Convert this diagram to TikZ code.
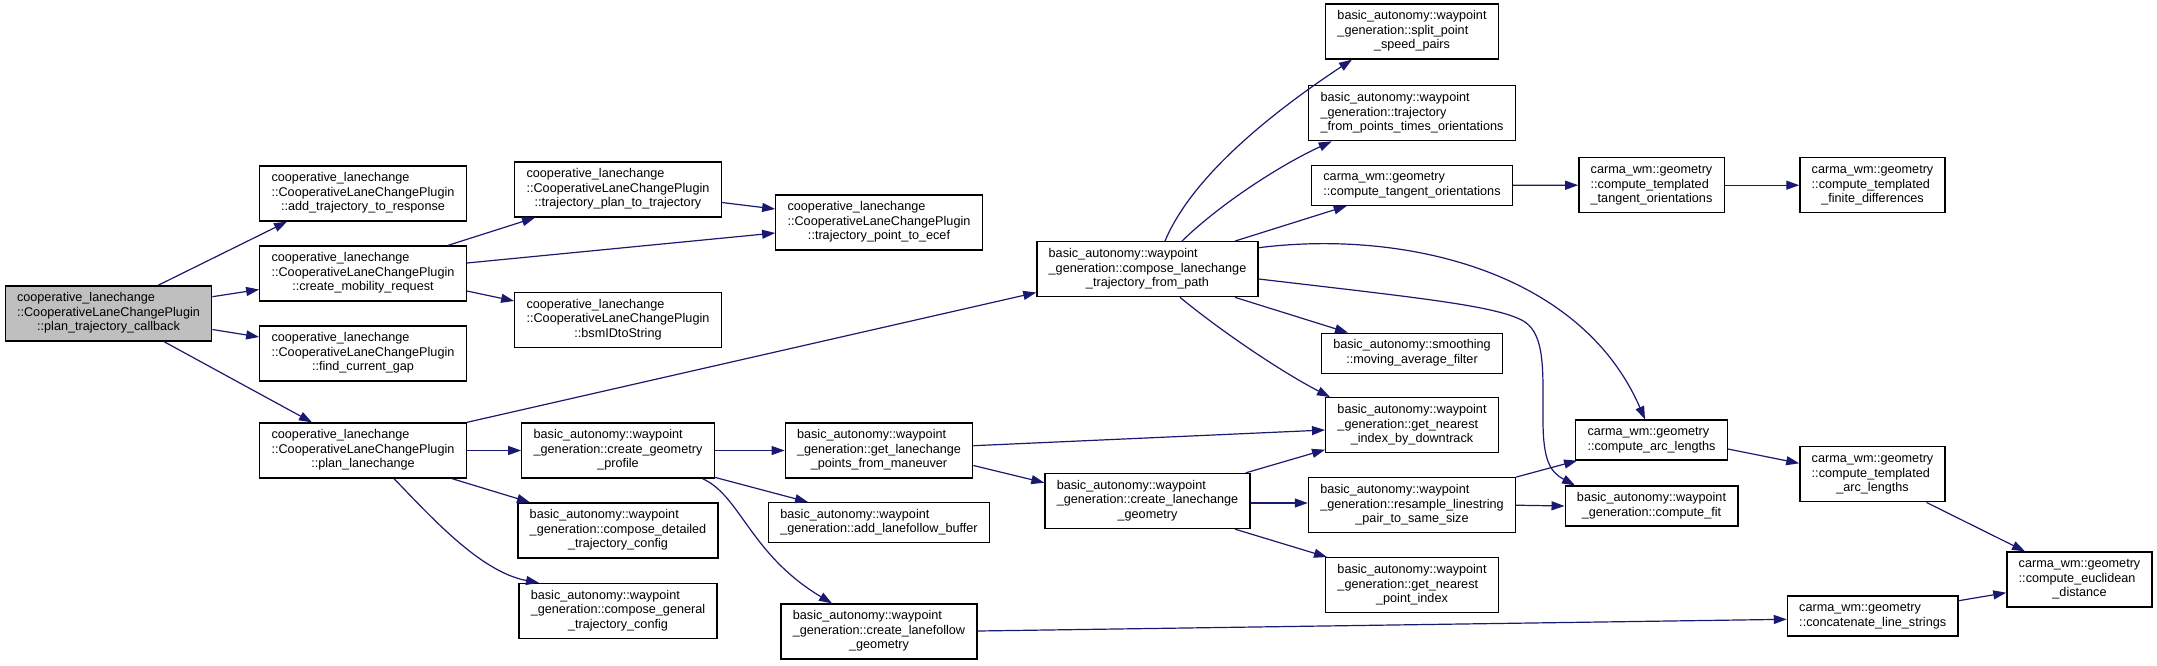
\documentclass[tikz,border=0pt]{standalone}
\usepackage{fontspec}
\setmainfont{Liberation Sans}
\usetikzlibrary{arrows.meta}
\definecolor{edgeblue}{HTML}{191970}
\definecolor{rootgray}{HTML}{BFBFBF}
\newcommand{\Lthree}[3]{\begin{tabular}{@{}l@{}}#1\\#2\\\multicolumn{1}{@{}c@{}}{#3}\end{tabular}}
\newcommand{\Ltwo}[2]{\begin{tabular}{@{}l@{}}#1\\\multicolumn{1}{@{}c@{}}{#2}\end{tabular}}
\begin{document}
\begin{tikzpicture}[x=1pt,y=-1pt,
  fn/.style={draw=black, line width=1.3pt, fill=white, inner xsep=11.8pt, inner ysep=0pt,
             font=\fontsize{12.65}{14.5}\selectfont},
  f3/.style={fn, minimum height=55pt},
  f2/.style={fn, minimum height=40pt},
  call/.style={draw=edgeblue, line width=1.2pt, -{Triangle[length=13pt,width=9pt]}}]
\useasboundingbox (0,0) rectangle (2157,665);

% rank 0
\node[f3, fill=rootgray] (root) at (108.5,313.5) {\Lthree{cooperative\_lanechange}{::CooperativeLaneChangePlugin}{::plan\_trajectory\_callback}};
% rank 1
\node[f3] (addtraj) at (363,193.5) {\Lthree{cooperative\_lanechange}{::CooperativeLaneChangePlugin}{::add\_trajectory\_to\_response}};
\node[f3] (mobility) at (363,273.5) {\Lthree{cooperative\_lanechange}{::CooperativeLaneChangePlugin}{::create\_mobility\_request}};
\node[f3] (gap) at (363,353.5) {\Lthree{cooperative\_lanechange}{::CooperativeLaneChangePlugin}{::find\_current\_gap}};
\node[f3] (plan) at (363,450.5) {\Lthree{cooperative\_lanechange}{::CooperativeLaneChangePlugin}{::plan\_lanechange}};
% rank 2
\node[f3] (trajplan) at (618,189.5) {\Lthree{cooperative\_lanechange}{::CooperativeLaneChangePlugin}{::trajectory\_plan\_to\_trajectory}};
\node[f3] (bsm) at (618,320) {\Lthree{cooperative\_lanechange}{::CooperativeLaneChangePlugin}{::bsmIDtoString}};
\node[f3] (geomprof) at (618,450.5) {\Lthree{basic\_autonomy::waypoint}{\_generation::create\_geometry}{\_profile}};
\node[f3] (detailed) at (618,530.5) {\Lthree{basic\_autonomy::waypoint}{\_generation::compose\_detailed}{\_trajectory\_config}};
\node[f3] (general) at (618,611) {\Lthree{basic\_autonomy::waypoint}{\_generation::compose\_general}{\_trajectory\_config}};
% rank 3
\node[f3] (ecef) at (879,222.5) {\Lthree{cooperative\_lanechange}{::CooperativeLaneChangePlugin}{::trajectory\_point\_to\_ecef}};
\node[f3] (getlc) at (879,450.5) {\Lthree{basic\_autonomy::waypoint}{\_generation::get\_lanechange}{\_points\_from\_maneuver}};
\node[f2] (addlf) at (879,522.7) {\Ltwo{basic\_autonomy::waypoint}{\_generation::add\_lanefollow\_buffer}};
\node[f3] (lfgeom) at (879,631.5) {\Lthree{basic\_autonomy::waypoint}{\_generation::create\_lanefollow}{\_geometry}};
% rank 4
\node[f3] (composelc) at (1147.5,269.2) {\Lthree{basic\_autonomy::waypoint}{\_generation::compose\_lanechange}{\_trajectory\_from\_path}};
\node[f3] (lcgeom) at (1147.5,501) {\Lthree{basic\_autonomy::waypoint}{\_generation::create\_lanechange}{\_geometry}};
% rank 5
\node[f3] (split) at (1412,31.5) {\Lthree{basic\_autonomy::waypoint}{\_generation::split\_point}{\_speed\_pairs}};
\node[f3] (trajfrom) at (1412,113.2) {\Lthree{basic\_autonomy::waypoint}{\_generation::trajectory}{\_from\_points\_times\_orientations}};
\node[f2] (tangent) at (1412,185.3) {\Ltwo{carma\_wm::geometry}{::compute\_tangent\_orientations}};
\node[f2] (movavg) at (1412,353.3) {\Ltwo{basic\_autonomy::smoothing}{::moving\_average\_filter}};
\node[f3] (nearestidx) at (1412,425.2) {\Lthree{basic\_autonomy::waypoint}{\_generation::get\_nearest}{\_index\_by\_downtrack}};
\node[f3] (resample) at (1412,505.2) {\Lthree{basic\_autonomy::waypoint}{\_generation::resample\_linestring}{\_pair\_to\_same\_size}};
\node[f3] (nearestpt) at (1412,585.2) {\Lthree{basic\_autonomy::waypoint}{\_generation::get\_nearest}{\_point\_index}};
% rank 6
\node[f3] (tmpltangent) at (1651.5,185.2) {\Lthree{carma\_wm::geometry}{::compute\_templated}{\_tangent\_orientations}};
\node[f2] (arclen) at (1651.5,440) {\Ltwo{carma\_wm::geometry}{::compute\_arc\_lengths}};
\node[f2] (fit) at (1651.5,506) {\Ltwo{basic\_autonomy::waypoint}{\_generation::compute\_fit}};
% rank 7
\node[f3] (finite) at (1872.5,185.2) {\Lthree{carma\_wm::geometry}{::compute\_templated}{\_finite\_differences}};
\node[f3] (tmplarc) at (1872.5,474.3) {\Lthree{carma\_wm::geometry}{::compute\_templated}{\_arc\_lengths}};
\node[f2] (concat) at (1872.7,616) {\Ltwo{carma\_wm::geometry}{::concatenate\_line\_strings}};
% rank 8
\node[f3] (euclid) at (2079.5,579.5) {\Lthree{carma\_wm::geometry}{::compute\_euclidean}{\_distance}};

% edges
\draw[call] ([xshift=49.5pt]root.north) -- ([xshift=-76pt]addtraj.south);
\draw[call] ([yshift=16.8pt]root.east) -- ([yshift=-16pt]mobility.west);
\draw[call] ([yshift=-16pt]root.east) -- ([yshift=16.5pt]gap.west);
\draw[call] ([xshift=55.5pt]root.south) -- ([xshift=-51pt]plan.north);
\draw[call] ([xshift=85pt]mobility.north) -- ([xshift=-83pt]trajplan.south);
\draw[call] ([yshift=10.5pt]mobility.east) -- ([yshift=-10.5pt]ecef.west);
\draw[call] ([yshift=-17.5pt]mobility.east) -- ([yshift=19pt]bsm.west);
\draw[call] ([yshift=-13pt]trajplan.east) -- ([yshift=13.5pt]ecef.west);
\draw[call] (plan.north east) -- ([yshift=-23.3pt]composelc.west);
\draw[call] (plan.east) -- (geomprof.west);
\draw[call] ([xshift=89pt]plan.south) -- ([xshift=-88pt]detailed.north);
\draw[call] ([xshift=31pt]plan.south) .. controls +(36,37) and +(-59,-11) .. ([xshift=-79pt]general.north);
\draw[call] (geomprof.east) -- (getlc.west);
\draw[call] ([yshift=1.3pt]geomprof.south east) -- ([xshift=-71pt]addlf.north);
\draw[call] ([xshift=84.5pt]geomprof.south) .. controls +(38,17) and +(-82,-49) .. ([xshift=-47pt]lfgeom.north);
\draw[call] ([yshift=4.8pt]getlc.east) -- ([yshift=-4.8pt]nearestidx.west);
\draw[call] ([yshift=-15pt]getlc.east) -- ([yshift=18.3pt]lcgeom.west);
\draw[call] ([xshift=17.5pt]composelc.north) .. controls +(30,-72) and +(-62,41) .. ([xshift=-60pt]split.south);
\draw[call] ([xshift=34.5pt]composelc.north) .. controls +(38,-37) and +(-52,24) .. ([xshift=-80.3pt]trajfrom.south);
\draw[call] ([xshift=87.5pt]composelc.north) -- ([xshift=-65.3pt]tangent.south);
\draw[call] ([yshift=21.5pt]composelc.east) .. controls +(142,-18) and +(-65,-150) .. ([xshift=-6.5pt]arclen.north);
\draw[call] ([yshift=-9.8pt]composelc.east) .. controls (1420,298) and (1500,306) .. (1525,322)
   .. controls (1545,336) and (1543,370) .. (1543,420)
   .. controls (1543,460) and (1550,472) .. ([xshift=-76.5pt]fit.north);
\draw[call] ([xshift=87.5pt]composelc.south) -- ([xshift=-64pt]movavg.north);
\draw[call] ([xshift=32.5pt]composelc.south) .. controls +(40,33) and +(-50,-26) .. ([xshift=-82pt]nearestidx.north);
\draw[call] (tangent.east) -- (tmpltangent.west);
\draw[call] (tmpltangent.east) -- (finite.west);
\draw[call] ([xshift=-5pt]lcgeom.north east) -- ([yshift=-24.5pt]nearestidx.west);
\draw[call] ([yshift=-2pt]lcgeom.east) -- ([yshift=2.2pt]resample.west);
\draw[call] ([xshift=87.5pt]lcgeom.south) -- ([xshift=-85pt]nearestpt.north);
\draw[call] (resample.north east) -- ([xshift=2pt]arclen.south west);
\draw[call] (resample.east) -- (fit.west);
\draw[call] ([yshift=-9pt]arclen.east) -- ([yshift=11pt]tmplarc.west);
\draw[call] ([xshift=54pt]tmplarc.south) -- ([xshift=-54.5pt]euclid.north);
\draw[call] ([yshift=0.5pt]lfgeom.east) -- ([yshift=-3.3pt]concat.west);
\draw[call] ([yshift=15.3pt]concat.east) -- ([yshift=-13.2pt]euclid.west);
\end{tikzpicture}
\end{document}
